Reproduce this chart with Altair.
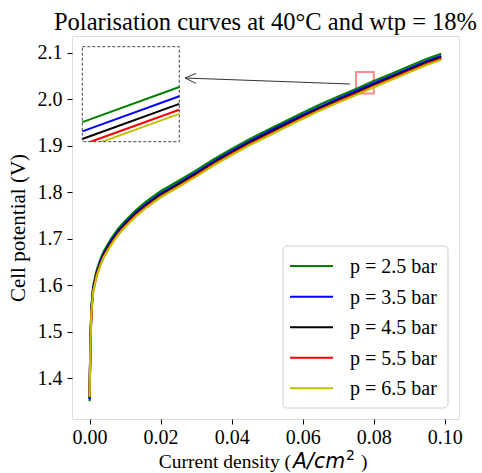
import altair as alt
import pandas as pd

# ---------------- data ----------------
current = [0.0, 0.0002, 0.0005, 0.001, 0.002, 0.003, 0.004, 0.006, 0.008, 0.010,
           0.013, 0.016, 0.020, 0.025, 0.030, 0.035, 0.040, 0.045, 0.050, 0.055,
           0.060, 0.065, 0.070, 0.075, 0.080, 0.085, 0.090, 0.095, 0.099]

v_25 = [1.350, 1.470, 1.552, 1.598, 1.632, 1.655, 1.673, 1.699, 1.721, 1.738,
        1.761, 1.780, 1.802, 1.824, 1.847, 1.871, 1.893, 1.914, 1.933, 1.952,
        1.971, 1.989, 2.006, 2.022, 2.039, 2.055, 2.071, 2.087, 2.098]
v_35 = [1.355, 1.466, 1.548, 1.593, 1.627, 1.650, 1.668, 1.694, 1.716, 1.733,
        1.756, 1.775, 1.797, 1.819, 1.842, 1.866, 1.888, 1.909, 1.929, 1.948,
        1.966, 1.984, 2.001, 2.0175, 2.0345, 2.050, 2.066, 2.082, 2.093]
v_45 = [1.357, 1.462, 1.544, 1.590, 1.624, 1.647, 1.665, 1.691, 1.713, 1.730,
        1.753, 1.772, 1.794, 1.816, 1.839, 1.863, 1.885, 1.906, 1.925, 1.944,
        1.963, 1.981, 1.998, 2.0138, 2.0308, 2.047, 2.063, 2.079, 2.090]
v_55 = [1.362, 1.459, 1.541, 1.587, 1.621, 1.644, 1.662, 1.688, 1.710, 1.727,
        1.750, 1.769, 1.791, 1.813, 1.836, 1.860, 1.882, 1.903, 1.922, 1.941,
        1.960, 1.978, 1.995, 2.011, 2.028, 2.044, 2.060, 2.076, 2.087]
v_65 = [1.359, 1.457, 1.539, 1.585, 1.619, 1.642, 1.660, 1.686, 1.708, 1.725,
        1.748, 1.767, 1.789, 1.811, 1.834, 1.858, 1.880, 1.901, 1.920, 1.939,
        1.958, 1.976, 1.993, 2.009, 2.026, 2.042, 2.058, 2.074, 2.085]

labels = ["p = 2.5 bar", "p = 3.5 bar", "p = 4.5 bar", "p = 5.5 bar", "p = 6.5 bar"]
colors = ["#008000", "#0000ff", "#000000", "#ff0000", "#bfbf00"]
series = [v_25, v_35, v_45, v_55, v_65]

x_ticks = [0.00, 0.02, 0.04, 0.06, 0.08, 0.10]
y_ticks = [1.4, 1.5, 1.6, 1.7, 1.8, 1.9, 2.0, 2.1]
x_domain = [-0.00495, 0.1040]
y_domain = [1.312, 2.136]
zoom_x = [0.075, 0.080]
zoom_y = [2.0125, 2.0585]

title = "Polarisation curves at 40°C and wtp = 18%"
y_title = "Cell potential (V)"

# ---------------- layout ----------------
W, H = 387, 383
SERIF = "Liberation Serif"
inset_px_x = [10.3, 107.3]
inset_px_y = [105.7, 10.7]

frames = []
for lab, vals in zip(labels, series):
    frames.append(pd.DataFrame({"i": current, "V": vals, "p": lab}))

xs = alt.Scale(domain=x_domain, nice=False, zero=False)
ys = alt.Scale(domain=y_domain, nice=False, zero=False)
xaxis = alt.Axis(values=x_ticks, format=".2f", title=None, grid=False, domain=False,
                 labelFont=SERIF, labelFontSize=20, labelColor="black",
                 tickColor="black", tickSize=5, labelPadding=3, labelFlush=False)
yaxis = alt.Axis(values=y_ticks, format=".1f", title=y_title, grid=False, domain=False,
                 labelFont=SERIF, labelFontSize=20, labelColor="black",
                 tickColor="black", tickSize=5, labelPadding=5, labelFlush=False,
                 titleFont=SERIF, titleFontSize=21, titleFontWeight="normal",
                 titleColor="black", titlePadding=9)

square_df = pd.DataFrame({"x0": [zoom_x[0]], "x1": [zoom_x[1]],
                          "y0": [zoom_y[0]], "y1": [zoom_y[1]]})
square = alt.Chart(square_df).mark_rect(fill=None, stroke="#ff7f7f", strokeWidth=2,
                                        opacity=0.9).encode(
    x=alt.X("x0:Q", scale=xs, axis=xaxis), x2="x1:Q",
    y=alt.Y("y0:Q", scale=ys, axis=yaxis), y2="y1:Q")

main_lines = [
    alt.Chart(f).mark_line(color=c, strokeWidth=2.2).encode(
        x=alt.X("i:Q", scale=xs, axis=xaxis),
        y=alt.Y("V:Q", scale=ys, axis=yaxis))
    for f, c in zip(frames, colors)
]
main = alt.layer(square, *main_lines)

ixs = alt.Scale(domain=zoom_x, range=inset_px_x, nice=False, zero=False)
iys = alt.Scale(domain=zoom_y, range=inset_px_y, nice=False, zero=False)
inset_lines = [
    alt.Chart(f).transform_filter(
        alt.FieldRangePredicate(field="i", range=[zoom_x[0] - 1e-6, zoom_x[1] + 1e-6])
    ).mark_line(color=c, strokeWidth=2).encode(
        x=alt.X("i:Q", scale=ixs, axis=None),
        y=alt.Y("V:Q", scale=iys, axis=None))
    for f, c in zip(frames, colors)
]
inset = alt.layer(*inset_lines)

one = pd.DataFrame({"a": [0]})

cover = alt.Chart(one).mark_rect(fill="white", stroke=None).encode(
    x=alt.value(inset_px_x[0] - 1), x2=alt.value(inset_px_x[1] + 1),
    y=alt.value(inset_px_y[0]), y2=alt.value(inset_px_y[0] + 12))
frame = alt.Chart(one).mark_rect(fill=None, stroke="#444444", strokeWidth=1,
                                 strokeDash=[3, 2]).encode(
    x=alt.value(inset_px_x[0]), x2=alt.value(inset_px_x[1]),
    y=alt.value(inset_px_y[1]), y2=alt.value(inset_px_y[0]))

tip = (113, 42)
tail = (278, 48)
arrow = [
    alt.Chart(one).mark_rule(color="#333333", strokeWidth=1).encode(
        x=alt.value(tip[0]), x2=alt.value(tail[0]),
        y=alt.value(tip[1]), y2=alt.value(tail[1])),
    alt.Chart(one).mark_rule(color="#333333", strokeWidth=1).encode(
        x=alt.value(tip[0]), x2=alt.value(tip[0] + 11),
        y=alt.value(tip[1]), y2=alt.value(tip[1] - 4.6)),
    alt.Chart(one).mark_rule(color="#333333", strokeWidth=1).encode(
        x=alt.value(tip[0]), x2=alt.value(tip[0] + 11),
        y=alt.value(tip[1]), y2=alt.value(tip[1] + 5.4)),
]

# legend (matplotlib style box)
lg_box = alt.Chart(one).mark_rect(fill="white", fillOpacity=0.85, stroke="#d0d0d0",
                                  strokeWidth=1, cornerRadius=4).encode(
    x=alt.value(211), x2=alt.value(376), y=alt.value(210), y2=alt.value(372))
legend = [lg_box]
for k, (lab, c) in enumerate(zip(labels, colors)):
    yy = 230.1 + k * 30.55
    legend.append(alt.Chart(one).mark_rule(color=c, strokeWidth=2).encode(
        x=alt.value(218), x2=alt.value(261), y=alt.value(yy), y2=alt.value(yy)))
    legend.append(alt.Chart(one).mark_text(
        text=lab, font=SERIF, fontSize=20, align="left", baseline="middle",
        color="black").encode(x=alt.value(278), y=alt.value(yy + 1)))

# x-axis title: "Current density (" + italic math "A/cm" + superscript 2 + ")"
xlabel = [
    alt.Chart(one).mark_text(text="Current density (", font=SERIF, fontSize=19.5,
                             align="right", baseline="alphabetic", color="black").encode(
        x=alt.value(219), y=alt.value(431.5)),
    alt.Chart(one).mark_text(text="A/cm", font="DejaVu Sans", fontStyle="italic",
                             fontSize=20.5, align="left", baseline="alphabetic",
                             color="black").encode(x=alt.value(221), y=alt.value(431.5)),
    alt.Chart(one).mark_text(text="2", font="DejaVu Sans", fontSize=14,
                             align="left", baseline="alphabetic",
                             color="black").encode(x=alt.value(274), y=alt.value(423.5)),
    alt.Chart(one).mark_text(text=")", font=SERIF, fontSize=19.5,
                             align="left", baseline="alphabetic",
                             color="black").encode(x=alt.value(289), y=alt.value(431.5)),
]

chart = alt.layer(main, inset, cover, frame, *arrow, *legend, *xlabel).resolve_scale(
    x="independent", y="independent"
).properties(
    width=W, height=H,
    title=alt.TitleParams(title, font=SERIF, fontSize=24.5, fontWeight="normal",
                          anchor="middle", color="black", offset=1),
    autosize=alt.AutoSizeParams(type="none"),
    padding={"left": 72, "top": 36, "right": 23, "bottom": 54},
).configure_view(stroke="#3a3a3a", strokeWidth=1).configure(background="white")

chart.save("out.html", embed_options={"renderer": "svg", "actions": False})
